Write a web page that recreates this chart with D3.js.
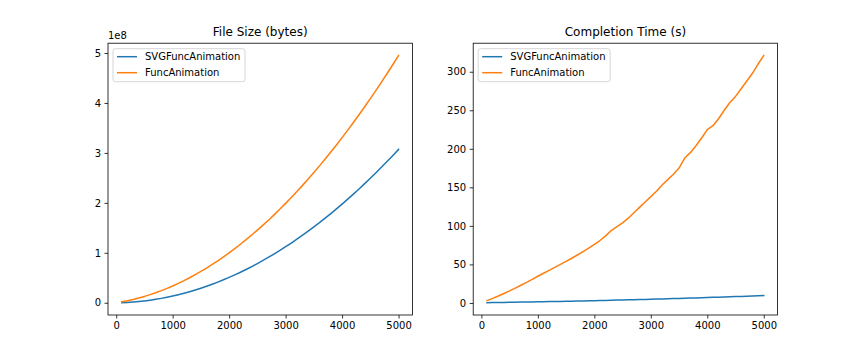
<!DOCTYPE html>
<html>
<head>
<meta charset="utf-8">
<script src="https://cdn.jsdelivr.net/npm/d3@7"></script>
<style>
  html, body { margin: 0; padding: 0; background: #fff; }
  svg { display: block; font-family: "DejaVu Sans", sans-serif; }
</style>
</head>
<body>
<svg id="chart" width="864" height="360"></svg>
<script>
// ---- Data ----
const frames = [100,200,300,400,500,600,700,800,900,1000,
  1100,1200,1300,1400,1500,1600,1700,1800,1900,2000,
  2100,2200,2300,2400,2500,2600,2700,2800,2900,3000,
  3100,3200,3300,3400,3500,3600,3700,3800,3900,4000,
  4100,4200,4300,4400,4500,4600,4700,4800,4900,5000];

const seriesNames = ["SVGFuncAnimation", "FuncAnimation"];

// File size in bytes
const sizeSVG = [0.26e6,0.76e6,1.5e6,2.48e6,3.7e6,5.16e6,6.86e6,8.8e6,10.98e6,13.4e6,
  16.06e6,18.96e6,22.1e6,25.48e6,29.1e6,32.96e6,37.06e6,41.4e6,45.98e6,50.8e6,
  55.86e6,61.16e6,66.7e6,72.48e6,78.5e6,84.76e6,91.26e6,98.0e6,104.98e6,112.2e6,
  119.66e6,127.36e6,135.3e6,143.48e6,151.9e6,160.56e6,169.46e6,178.6e6,187.98e6,197.6e6,
  207.46e6,217.56e6,227.9e6,238.48e6,249.3e6,260.36e6,271.66e6,283.2e6,294.98e6,307.0e6];
const sizeFunc = [1.9e6,4.12e6,6.67e6,9.55e6,12.75e6,16.28e6,20.13e6,24.32e6,28.83e6,33.66e6,
  38.83e6,44.32e6,50.13e6,56.28e6,62.74e6,69.53e6,76.66e6,84.11e6,91.88e6,99.99e6,
  108.42e6,117.17e6,126.26e6,135.66e6,145.39e6,155.46e6,165.85e6,176.56e6,187.61e6,198.97e6,
  210.66e6,222.69e6,235.03e6,247.7e6,260.71e6,274.04e6,287.69e6,301.68e6,315.98e6,330.61e6,
  345.58e6,360.86e6,376.47e6,392.42e6,408.68e6,425.27e6,442.2e6,459.44e6,477.01e6,494.92e6];

// Completion time in seconds
const timeSVG = [0.40,0.51,0.62,0.73,0.84,0.96,1.08,1.21,1.34,1.47,
  1.61,1.74,1.89,2.03,2.18,2.34,2.49,2.65,2.81,2.98,
  3.15,3.32,3.50,3.68,3.86,4.05,4.24,4.43,4.63,4.83,
  5.03,5.24,5.45,5.67,5.88,6.10,6.33,6.55,6.79,7.02,
  7.26,7.50,7.74,7.99,8.24,8.50,8.75,9.02,9.28,9.55];
const timeFunc = [3,6,9,12.2,15.6,19.2,23,26.8,30.7,34.6,
  38.5,42.3,46.1,50,54,58,62.2,66.5,71,76,
  81,87,94,99,104,110,117,124,131,138,
  145,153,160,167,175,188,195,204,214,225,
  230,239,250,260,268,278,288,298,310,321];

const xTicks = [0,1000,2000,3000,4000,5000];
const sizeTicks = [0,1e8,2e8,3e8,4e8,5e8];
const timeTicks = [0,50,100,150,200,250,300];

const colors = ["#1f77b4", "#ff7f0e"];

// ---- Drawing ----
const svg = d3.select("#chart");
const plotTop = 43.2, plotBottom = 315;
const panels = [
  {left: 108, right: 412.4, title: "File Size (bytes)", series: [sizeSVG, sizeFunc], ticks: sizeTicks,
   fmt: d => String(d / 1e8), offset: "1e8"},
  {left: 473.2, right: 777.6, title: "Completion Time (s)", series: [timeSVG, timeFunc], ticks: timeTicks,
   fmt: d => String(d), offset: null}
];

function padDomain(vals) {
  const lo = d3.min(vals), hi = d3.max(vals), r = hi - lo;
  return [lo - 0.05 * r, hi + 0.05 * r];
}

panels.forEach(p => {
  const x = d3.scaleLinear().domain(padDomain(frames)).range([p.left, p.right]);
  const y = d3.scaleLinear().domain(padDomain(p.series.flat())).range([plotBottom, plotTop]);
  const g = svg.append("g");

  // lines
  p.series.forEach((s, i) => {
    const line = d3.line().x((d, j) => x(frames[j])).y(d => y(d));
    g.append("path").datum(s).attr("d", line)
      .attr("fill", "none").attr("stroke", colors[i]).attr("stroke-width", 1.5)
      .attr("stroke-linejoin", "round").attr("stroke-linecap", "square");
  });

  // axes
  const xAxis = d3.axisBottom(x).tickValues(xTicks).tickFormat(d3.format("d"))
    .tickSize(3.5).tickPadding(3.5);
  const yAxis = d3.axisLeft(y).tickValues(p.ticks).tickFormat(p.fmt)
    .tickSize(3.5).tickPadding(3.5);
  const gx = g.append("g").attr("transform", `translate(0,${plotBottom})`).call(xAxis);
  const gy = g.append("g").attr("transform", `translate(${p.left},0)`).call(yAxis);
  [gx, gy].forEach(a => {
    a.select(".domain").remove();
    a.selectAll(".tick line").attr("stroke", "#000").attr("stroke-width", 0.8);
    a.selectAll(".tick text").attr("fill", "#000").attr("font-size", 10)
      .attr("font-family", "DejaVu Sans, sans-serif");
  });

  // frame
  g.append("rect").attr("x", p.left).attr("y", plotTop)
    .attr("width", p.right - p.left).attr("height", plotBottom - plotTop)
    .attr("fill", "none").attr("stroke", "#000").attr("stroke-width", 0.8);

  // title
  g.append("text").attr("x", (p.left + p.right) / 2).attr("y", plotTop - 7.5)
    .attr("text-anchor", "middle").attr("font-size", 12).attr("fill", "#000")
    .text(p.title);

  if (p.offset) {
    g.append("text").attr("x", p.left).attr("y", plotTop - 4)
      .attr("font-size", 10).attr("fill", "#000").text(p.offset);
  }

  // legend
  const lg = g.append("g").attr("transform", `translate(${p.left + 5},${plotTop + 5.5})`);
  lg.append("rect").attr("x", 0).attr("y", 0).attr("width", 132).attr("height", 33)
    .attr("rx", 2.5).attr("fill", "#fff").attr("fill-opacity", 0.8)
    .attr("stroke", "#cccccc").attr("stroke-width", 0.8);
  seriesNames.forEach((name, i) => {
    const yy = 8 + i * 16;
    lg.append("line").attr("x1", 4).attr("x2", 24).attr("y1", yy).attr("y2", yy)
      .attr("stroke", colors[i]).attr("stroke-width", 1.5);
    lg.append("text").attr("x", 32).attr("y", yy).attr("dy", "0.35em")
      .attr("font-size", 10).attr("fill", "#000").text(name);
  });
});
</script>
</body>
</html>
